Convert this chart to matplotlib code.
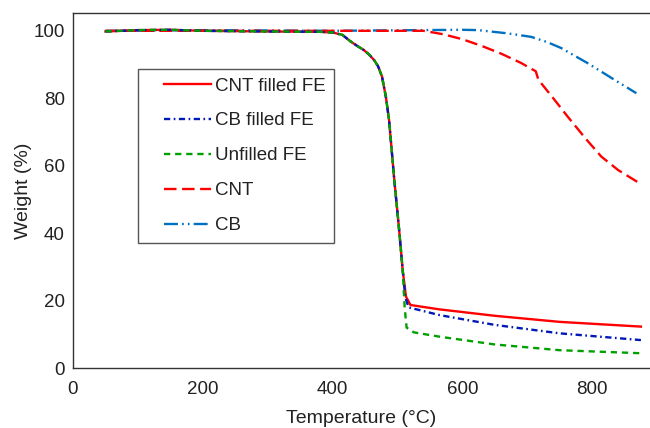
import matplotlib
matplotlib.use("Agg")
import matplotlib.pyplot as plt
from matplotlib.legend_handler import HandlerLine2D

plt.rcParams['font.family'] = ['Liberation Sans', 'DejaVu Sans']
plt.rcParams['lines.scale_dashes'] = False

# ---- data ----
fe_temp = [50, 100, 150, 200, 300, 380, 400, 415, 428, 438, 448, 456, 464, 470, 476, 482, 487, 495, 502, 508]
fe_weight = [99.8, 100.2, 100.3, 100.0, 99.8, 99.7, 99.5, 98.8, 96.8, 95.5, 94.3, 93.0, 91.3, 89.5, 86.5, 80.5, 73.5, 55.8, 42.0, 29.0]

cnt_fe_tail_temp = [513, 520, 565, 650, 750, 875]
cnt_fe_tail_weight = [21.2, 18.7, 17.4, 15.5, 13.7, 12.3]

cb_fe_tail_temp = [512, 517, 565, 650, 750, 875]
cb_fe_tail_weight = [21.0, 18.0, 15.7, 12.8, 10.3, 8.3]

unf_fe_tail_temp = [511, 514, 525, 565, 650, 750, 875]
unf_fe_tail_weight = [18.0, 12.0, 10.6, 9.3, 7.0, 5.3, 4.4]

cnt_temp = [50, 200, 400, 540, 570, 600, 630, 660, 690, 713, 717, 740, 762, 790, 814, 840, 873]
cnt_weight = [100.0, 100.0, 100.0, 100.0, 99.0, 97.5, 95.5, 93.2, 90.5, 88.0, 85.5, 80.0, 74.6, 68.0, 62.7, 58.7, 54.8]

cb_temp = [50, 200, 400, 600, 624, 667, 682, 706, 730, 752, 793, 834, 868]
cb_weight = [100.0, 100.2, 100.0, 100.3, 100.2, 99.3, 98.9, 98.2, 96.7, 94.9, 90.4, 85.5, 81.5]

labels = ['CNT filled FE', 'CB filled FE', 'Unfilled FE', 'CNT', 'CB']
x_ticks = [0, 200, 400, 600, 800]
y_ticks = [0, 20, 40, 60, 80, 100]

# ---- figure ----
fig = plt.figure(figsize=(6.5, 4.28), dpi=100)
ax = fig.add_axes([0.1123, 0.140, 1.0 - 0.1123, 0.969 - 0.140])

lw = 1.7
ax.plot(fe_temp + cnt_fe_tail_temp, fe_weight + cnt_fe_tail_weight,
        color='#FF0000', lw=lw, ls='-', label=labels[0], zorder=3)
ax.plot(fe_temp + cb_fe_tail_temp, fe_weight + cb_fe_tail_weight,
        color='#0018B8', lw=lw, ls=(0, (4.5, 2.5, 1.2, 2.5)), label=labels[1], zorder=4)
ax.plot(fe_temp + unf_fe_tail_temp, fe_weight + unf_fe_tail_weight,
        color='#00A000', lw=lw, ls=(0, (4.5, 3.5)), label=labels[2], zorder=5)
ax.plot(cnt_temp, cnt_weight,
        color='#FF0000', lw=lw, ls=(0, (9, 4)), label=labels[3], zorder=2)
ax.plot(cb_temp, cb_weight,
        color='#0070C0', lw=lw, ls=(0, (10, 3, 1.2, 3, 1.2, 3)), label=labels[4], zorder=1)

ax.set_xlim(0, 889)
ax.set_ylim(0, 105.2)
ax.set_xticks(x_ticks)
ax.set_yticks(y_ticks)
ax.tick_params(length=0, labelsize=13.5, labelcolor='#222222')
ax.tick_params(axis='y', pad=5.8)
ax.tick_params(axis='x', pad=9)
ax.spines['right'].set_visible(False)
for s in ['left', 'bottom', 'top']:
    ax.spines[s].set_color('#333333')
    ax.spines[s].set_linewidth(1.0)

ax.set_xlabel('Temperature (°C)', fontsize=14, color='#222222', labelpad=9)
ax.set_ylabel('Weight (%)', fontsize=14, color='#222222', labelpad=1)

handler = HandlerLine2D(xpad=0.94)
leg = ax.legend(loc='upper left', bbox_to_anchor=(0.1127, 0.843), borderaxespad=0,
                fontsize=13.5, handlelength=3.45, handletextpad=0.2, labelspacing=0.95,
                borderpad=0.45, fancybox=False, framealpha=1, edgecolor='#555555',
                handler_map={matplotlib.lines.Line2D: handler})
leg.get_frame().set_linewidth(1.0)
for t in leg.get_texts():
    t.set_color('#222222')

fig.savefig('out.png', dpi=100)
